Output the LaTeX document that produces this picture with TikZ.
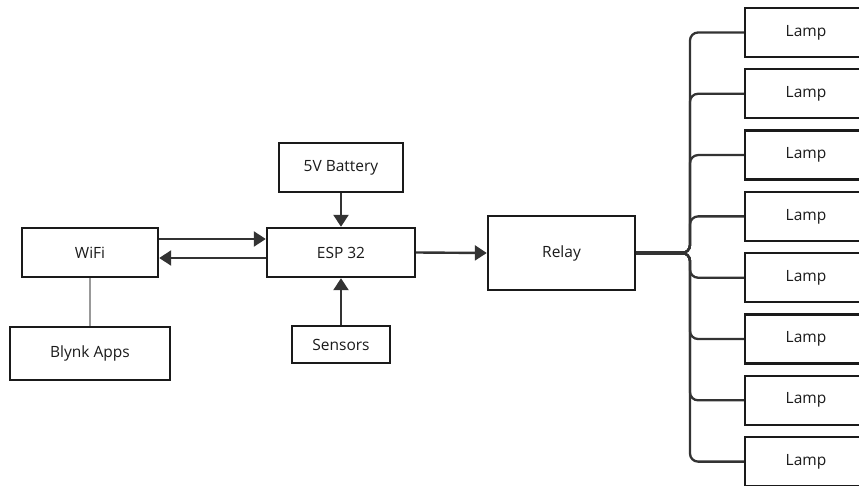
\documentclass[tikz,border=0pt]{standalone}
\usepackage{fontspec}
\setmainfont{Open Sans}
\usetikzlibrary{arrows.meta}
\definecolor{ink}{HTML}{1A1A1A}
\definecolor{wire}{HTML}{333333}
\definecolor{soft}{HTML}{999999}
\tikzset{
  blk/.style={draw=ink, line width=2.4pt, rectangle, inner sep=0pt, text=ink, font=\fontsize{15.5}{18}\selectfont},
  arr/.style={draw=wire, line width=2.4pt, -{Triangle[length=12pt,width=15pt]}},
  bus/.style={draw=wire, line width=2.3pt, rounded corners=8pt},
}
\begin{document}
\begin{tikzpicture}[x=1pt,y=-1pt]
\useasboundingbox (0,0) rectangle (859,486);
\clip (0,0) rectangle (859,486);
\node[blk, minimum width=136pt, minimum height=49pt] (wifi) at (90,252.5) {WiFi};
\node[blk, minimum width=160pt, minimum height=53pt] (blynk) at (90,353.5) {Blynk Apps};
\node[blk, minimum width=148pt, minimum height=49pt] (esp) at (341,252.5) {ESP 32};
\node[blk, minimum width=124pt, minimum height=49pt] (bat) at (341,167.5) {5V Battery};
\node[blk, minimum width=98pt, minimum height=37pt] (sens) at (341,344.5) {Sensors};
\node[blk, minimum width=147pt, minimum height=74pt] (relay) at (561.5,253) {Relay};
\coordinate (split) at (690,253);
\foreach \i in {0,...,7}{
  \node[blk, minimum width=122pt, minimum height=49pt] (lamp\i) at (806,{32.5+61.3*\i}) {Lamp};
  \draw[bus] (relay.east) -- (split) |- (lamp\i.west);
}
\draw[draw=wire, line width=4pt] (relay.east) -- ([xshift=-6pt]split);
\draw[draw=soft, line width=2pt] (wifi.south) -- (blynk.north);
\draw[arr] ([yshift=13.5pt]wifi.east) -- ([yshift=13.5pt]esp.west);
\draw[arr] ([yshift=-5.5pt]esp.west) -- ([yshift=-5.5pt]wifi.east);
\draw[arr] (bat.south) -- (esp.north);
\draw[arr] (sens.north) -- (esp.south);
\draw[arr] (esp.east) -- (relay.west);
\end{tikzpicture}
\end{document}
